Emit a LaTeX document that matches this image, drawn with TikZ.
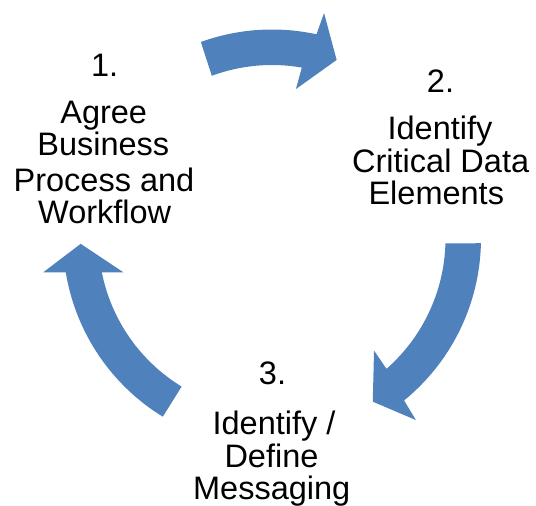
\documentclass[tikz,border=0pt]{standalone}
\usepackage{fontspec}
\setmainfont{Liberation Sans}
\definecolor{arrowblue}{RGB}{79,129,189}
\tikzset{
  lbl/.style={inner sep=0pt, anchor=base, font=\fontsize{32.5pt}{33pt}\selectfont, text=black},
  cyclearrow/.style={fill=arrowblue, draw=none},
}
\begin{document}
\begin{tikzpicture}[x=1pt,y=1pt]
\useasboundingbox (0,0) rectangle (536,506);
\coordinate (c) at (272,267.5);
% arrow 1 (top)
\fill[cyclearrow] ([shift={(c)}]109.9:209) arc[start angle=109.9, end angle=77.7, radius=209]
  -- ([shift={(c)}]77.0:231.4) -- ([shift={(c)}]70.1:189.9) -- ([shift={(c)}]80.9:151.4)
  -- ([shift={(c)}]80.1:173.5) arc[start angle=80.1, end angle=110.3, radius=173.5] -- cycle;
% arrow 2 (right)
\fill[cyclearrow] ([shift={(c)}]-1.3:209) arc[start angle=-1.3, end angle=-50.8, radius=209]
  -- ([shift={(c)}]-51.6:231.7) -- ([shift={(c)}]-58.3:191.8) -- ([shift={(c)}]-47.7:151.6)
  -- ([shift={(c)}]-48.7:173.5) arc[start angle=-48.7, end angle=-1.6, radius=173.5] -- cycle;
% arrow 3 (left)
\fill[cyclearrow] ([shift={(c)}]238.5:209) arc[start angle=238.5, end angle=189.3, radius=209]
  -- ([shift={(c)}]188.4:231.2) -- ([shift={(c)}]181.6:191.4) -- ([shift={(c)}]192.8:152.5)
  -- ([shift={(c)}]191.3:173.5) arc[start angle=191.3, end angle=238.6, radius=173.5] -- cycle;
% block 1
\node[lbl] (n1) at (104.7,429.3) {1.};
\node[lbl] (a1) at (103.7,382) {Agree};
\node[lbl] (a2) at (103.3,350) {Business};
\node[lbl] (a3) at (104,314.3) {Process and};
\node[lbl] (a4) at (104.7,282) {Workflow};
% block 2
\node[lbl] (n2) at (440.5,413.7) {2.};
\node[lbl] (b1) at (440,366) {Identify};
\node[lbl] (b2) at (440.7,333.7) {Critical Data};
\node[lbl] (b3) at (436.3,301) {Elements};
% block 3
\node[lbl] (n3) at (272.5,121) {3.};
\node[lbl] (d1) at (274,71) {Identify /};
\node[lbl] (d2) at (271.5,38.7) {Define};
\node[lbl] (d3) at (271.7,6) {Messaging};
\end{tikzpicture}
\end{document}
